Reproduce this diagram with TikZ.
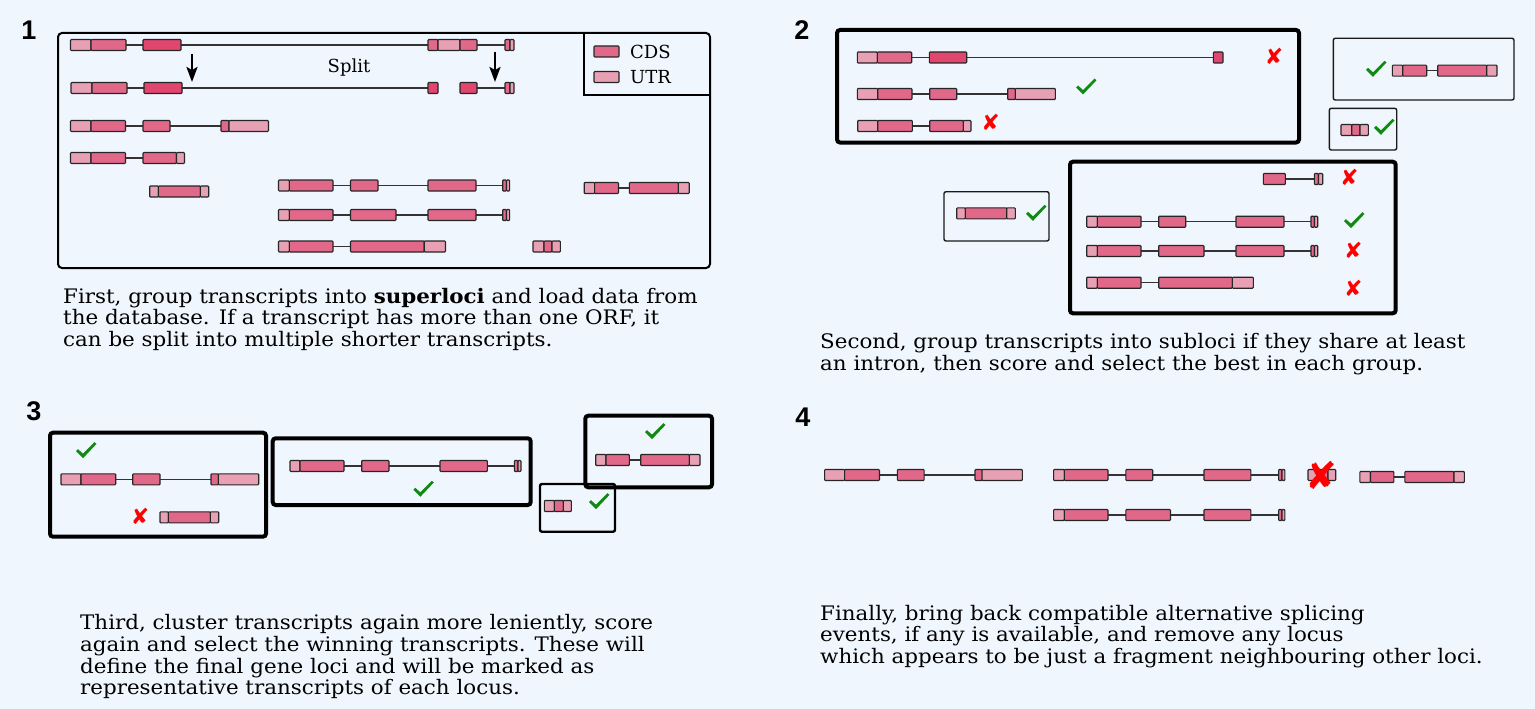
\documentclass[tikz,border=0pt]{standalone}
\usepackage{fontspec}
\setmainfont{DejaVu Serif}
\newfontfamily\parafont{DejaVu Serif}[FakeStretch=1.07]
\newfontfamily\symf{DejaVu Sans}
\newfontfamily\numf{Liberation Sans}
\usetikzlibrary{arrows.meta}
\definecolor{bg}{RGB}{239,246,253}
\definecolor{cdsc}{RGB}{226,104,138}
\definecolor{cdsk}{RGB}{224,70,110}
\definecolor{utrc}{RGB}{232,160,180}
\definecolor{okc}{RGB}{16,138,16}
\definecolor{noc}{RGB}{255,0,0}
\tikzset{
 cds/.style={fill=cdsc, draw=black!85, line width=1.1pt, rounded corners=0.8pt},
 cdsd/.style={cds, fill=cdsk},
 utr/.style={cds, fill=utrc},
 intron/.style={draw=black!80, line width=1.3pt},
 thickbox/.style={draw=black, line width=4pt, rounded corners=3pt},
 thinbox/.style={draw=black!90, line width=1.4pt, rounded corners=2pt},
 para/.style={anchor=base west, inner sep=0pt, font=\parafont\fontsize{20}{20}\selectfont},
 lbl/.style={inner sep=0pt, font=\fontsize{18}{18}\selectfont},
 nomark/.style={text=noc, font=\symf\fontsize{22}{22}\selectfont, inner sep=0pt},
 okpic/.pic={\fill[okc] (-10,0.5) -- (-8,-1.5) -- (-3,3) -- (8.5,-8.5) -- (10.5,-6.8) -- (-3,7.5) -- cycle;},
 panelnum/.style={font=\numf\bfseries\fontsize{27}{27}\selectfont, inner sep=0pt},
 splitarrow/.style={-{Stealth[length=15pt,width=11pt,inset=3pt]}, line width=2.5pt},
}
\newcommand\exn[4]{\draw[#1] (#2,{#4-5.5}) rectangle (#3,{#4+5.5});}
\newcommand\itr[3]{\draw[intron] (#1,#3) -- (#2,#3);}
\begin{document}
\begin{tikzpicture}[x=1pt,y=-1pt]
\fill[bg] (0,0) rectangle (1535,709);
\useasboundingbox (0,0) rectangle (1535,709);
% ---------------- panel numbers
\node[panelnum] (n1) at (29,30) {1};
\node[panelnum] (n2) at (802,30) {2};
\node[panelnum] (n3) at (34,411) {3};
\node[panelnum] (n4) at (803,417) {4};
% ---------------- panel 1
\draw[line width=2pt, rounded corners=4pt] (58,33) rectangle (710,268);
\draw[line width=1.5pt] (584,33) -- (584,95) -- (710,95);
\exn{cds}{594}{619}{51.5}
\exn{utr}{594}{619}{77}
\node[lbl, anchor=west] (lcds) at (630,51.5) {CDS};
\node[lbl, anchor=west] (lutr) at (630,77) {UTR};
% row 1
\itr{126}{143}{45}\itr{181}{428}{45}\itr{477}{505}{45}
\exn{utr}{70.5}{91}{45}\exn{cds}{91}{126}{45}\exn{cdsd}{143}{181}{45}
\exn{cds}{428}{438}{45}\exn{utr}{438}{460}{45}\exn{cds}{460}{477}{45}
\exn{cds}{505}{510}{45}\exn{utr}{510}{514}{45}
% row 2
\itr{127}{144}{88}\itr{182}{428}{88}\itr{477}{505}{88}
\exn{utr}{71}{92}{88}\exn{cds}{92}{127}{88}\exn{cdsd}{144}{182}{88}
\exn{cdsd}{428}{438}{88}\exn{cdsd}{460}{477}{88}
\exn{cds}{505}{510}{88}\exn{utr}{510}{514}{88}
% arrows and label
\coordinate (a1s) at (192,54); \coordinate (a1e) at (192,82);
\coordinate (a2s) at (495,52); \coordinate (a2e) at (495,82);
\draw[splitarrow] (a1s) -- (a1e);
\draw[splitarrow] (a2s) -- (a2e);
\node[lbl] (split) at (349,68) {Split};
% row 3
\itr{125.5}{143}{126}\itr{170}{221}{126}
\exn{utr}{70.5}{91}{126}\exn{cds}{91}{125.5}{126}\exn{cds}{143}{170}{126}
\exn{cds}{221}{229}{126}\exn{utr}{229}{268.5}{126}
% row 4
\itr{125.5}{143}{158}
\exn{utr}{70.5}{91}{158}\exn{cds}{91}{125.5}{158}\exn{cds}{143}{176.5}{158}\exn{utr}{176.5}{184.5}{158}
% row 5
\exn{utr}{149.7}{158.4}{191.5}\exn{cds}{158.4}{200.4}{191.5}\exn{utr}{200.4}{208.7}{191.5}
% right group
\itr{333}{350.5}{185.5}\itr{378}{428}{185.5}\itr{476}{502.7}{185.5}
\exn{utr}{278.5}{289.3}{185.5}\exn{cds}{289.3}{333}{185.5}\exn{cds}{350.5}{378}{185.5}
\exn{cds}{428}{476}{185.5}\exn{cds}{502.7}{506.5}{185.5}\exn{utr}{506.5}{509.6}{185.5}
\itr{333}{350.5}{215}\itr{396}{428}{215}\itr{476}{502.7}{215}
\exn{utr}{278.5}{289.3}{215}\exn{cds}{289.3}{333}{215}\exn{cds}{350.5}{396}{215}
\exn{cds}{428}{476}{215}\exn{cds}{502.7}{506.5}{215}\exn{utr}{506.5}{509.6}{215}
\itr{333}{350.5}{246.5}
\exn{utr}{278.5}{289.3}{246.5}\exn{cds}{289.3}{333}{246.5}\exn{cds}{350.5}{424.2}{246.5}\exn{utr}{424.2}{445.5}{246.5}
\exn{utr}{533}{544}{246.5}\exn{cds}{544}{552}{246.5}\exn{utr}{552}{560.4}{246.5}
\itr{618.5}{629.3}{188}
\exn{utr}{584.2}{594.6}{188}\exn{cds}{594.6}{618.5}{188}\exn{cds}{629.3}{678.3}{188}\exn{utr}{678.3}{689.2}{188}
% text 1
\node[para] (p1a) at (63,303) {First, group transcripts into \textbf{superloci} and load data from};
\node[para] (p1b) at (63,324.5) {the database. If a transcript has more than one ORF, it};
\node[para] (p1c) at (63,346) {can be split into multiple shorter transcripts.};
% ---------------- panel 2
\draw[thickbox] (837,30) rectangle (1299,142.5);
\itr{911.7}{929.3}{57.5}\itr{966.7}{1213.3}{57.5}
\exn{utr}{857.3}{877.3}{57.5}\exn{cds}{877.3}{911.7}{57.5}\exn{cdsd}{929.3}{966.7}{57.5}\exn{cdsd}{1213.3}{1223}{57.5}
\node[nomark] (x21) at (1274,56) {✘};
\itr{912}{929.7}{94}\itr{956.7}{1007.7}{94}
\exn{utr}{857.3}{877.7}{94}\exn{cds}{877.7}{912}{94}\exn{cds}{929.7}{956.7}{94}\exn{cds}{1007.7}{1015.3}{94}\exn{utr}{1015.3}{1055.3}{94}
\pic (c21) at (1086,87) {okpic};
\itr{912.3}{929.7}{126}
\exn{utr}{857.7}{877.7}{126}\exn{cds}{877.7}{912.3}{126}\exn{cds}{929.7}{963.3}{126}\exn{utr}{963.3}{971}{126}
\node[nomark] (x22) at (990.7,122.7) {✘};
% box B
\draw[thinbox] (1333.3,38.3) rectangle (1514,100);
\itr{1426.7}{1437.7}{70.7}
\exn{utr}{1392.3}{1402.7}{70.7}\exn{cds}{1402.7}{1426.7}{70.7}\exn{cds}{1437.7}{1486.7}{70.7}\exn{utr}{1486.7}{1497}{70.7}
\pic (c22) at (1376,69.3) {okpic};
% box C
\draw[thinbox] (1329.3,108.3) rectangle (1396.7,150);
\exn{utr}{1341}{1351.7}{130}\exn{cds}{1351.7}{1360}{130}\exn{utr}{1360}{1368.3}{130}
\pic (c23) at (1384,127.3) {okpic};
% box D
\draw[thinbox] (944,191.7) rectangle (1049,241);
\exn{utr}{956.7}{965.3}{213.3}\exn{cds}{965.3}{1006.7}{213.3}\exn{utr}{1006.7}{1015.3}{213.3}
\pic (c24) at (1036,213.3) {okpic};
% box E
\draw[thickbox] (1070,161.7) rectangle (1395.7,313.3);
\itr{1285.3}{1314.3}{179}
\exn{cds}{1263.3}{1285.3}{179}\exn{cds}{1314.3}{1318.5}{179}\exn{utr}{1318.5}{1322.7}{179}
\node[nomark] (x23) at (1349.3,177.3) {✘};
\itr{1141}{1158.7}{221.7}\itr{1185.7}{1236}{221.7}\itr{1284}{1311}{221.7}
\exn{utr}{1086.7}{1097.3}{221.7}\exn{cds}{1097.3}{1141}{221.7}\exn{cds}{1158.7}{1185.7}{221.7}
\exn{cds}{1236}{1284}{221.7}\exn{cds}{1311}{1314.5}{221.7}\exn{utr}{1314.5}{1317.7}{221.7}
\pic (c25) at (1354,220.7) {okpic};
\itr{1141}{1158.7}{251}\itr{1204}{1236}{251}\itr{1284}{1311}{251}
\exn{utr}{1086.7}{1097.3}{251}\exn{cds}{1097.3}{1141}{251}\exn{cds}{1158.7}{1204}{251}
\exn{cds}{1236}{1284}{251}\exn{cds}{1311}{1314.5}{251}\exn{utr}{1314.5}{1317.7}{251}
\node[nomark] (x24) at (1353.3,250.7) {✘};
\itr{1141}{1158.7}{282.7}
\exn{utr}{1086.7}{1097.3}{282.7}\exn{cds}{1097.3}{1141}{282.7}\exn{cds}{1158.7}{1232.3}{282.7}\exn{utr}{1232.3}{1253.3}{282.7}
\node[nomark] (x25) at (1353.3,288.3) {✘};
% text 2
\node[para] (p2a) at (820,348.3) {Second, group transcripts into subloci if they share at least};
\node[para] (p2b) at (820,370) {an intron, then score and select the best in each group.};
% ---------------- panel 3
\draw[thickbox] (50,432.7) rectangle (266,536.7);
\pic (c31) at (86,450.7) {okpic};
\itr{115.7}{132.7}{479.3}\itr{160}{211}{479.3}
\exn{utr}{61}{81}{479.3}\exn{cds}{81}{115.7}{479.3}\exn{cds}{132.7}{160}{479.3}\exn{cds}{211}{218.3}{479.3}\exn{utr}{218.3}{258.7}{479.3}
\node[nomark] (x31) at (140,516.7) {✘};
\exn{utr}{160}{168.3}{517.3}\exn{cds}{168.3}{210.3}{517.3}\exn{utr}{210.3}{218.7}{517.3}
\draw[thickbox] (272.7,438.3) rectangle (530.7,505);
\itr{344}{361.7}{466}\itr{389}{440}{466}\itr{487.3}{514.3}{466}
\exn{utr}{290}{300}{466}\exn{cds}{300}{344}{466}\exn{cds}{361.7}{389}{466}
\exn{cds}{440}{487.3}{466}\exn{cds}{514.3}{518}{466}\exn{utr}{518}{521}{466}
\pic (c32) at (423.3,489.3) {okpic};
\draw[thickbox] (585.3,415.7) rectangle (712,487.3);
\pic (c33) at (655,431.7) {okpic};
\itr{629.3}{640.7}{460}
\exn{utr}{595.7}{606}{460}\exn{cds}{606}{629.3}{460}\exn{cds}{640.7}{689.3}{460}\exn{utr}{689.3}{700}{460}
\draw[draw=black, line width=2.4pt, rounded corners=2pt] (540,484) rectangle (615,531.7);
\exn{utr}{544.3}{554.3}{506}\exn{cds}{554.3}{563.3}{506}\exn{utr}{563.3}{571.3}{506}
\pic (c34) at (599,501.7) {okpic};
% text 3
\node[para] (p3a) at (80,629) {Third, cluster transcripts again more leniently, score};
\node[para] (p3b) at (80,651) {again and select the winning transcripts. These will};
\node[para] (p3c) at (80,673) {define the final gene loci and will be marked as};
\node[para] (p3d) at (80,694.5) {representative transcripts of each locus.};
% ---------------- panel 4
\itr{879.5}{897.3}{475}\itr{924.1}{975}{475}
\exn{utr}{824.6}{844.6}{475}\exn{cds}{844.6}{879.5}{475}\exn{cds}{897.3}{924.1}{475}\exn{cds}{975}{982.1}{475}\exn{utr}{982.1}{1022.3}{475}
\itr{1108}{1125.9}{475}\itr{1152.7}{1204}{475}\itr{1250.9}{1278.6}{475}
\exn{utr}{1053.6}{1064.3}{475}\exn{cds}{1064.3}{1108}{475}\exn{cds}{1125.9}{1152.7}{475}
\exn{cds}{1204}{1250.9}{475}\exn{cds}{1278.6}{1282}{475}\exn{utr}{1282}{1284.8}{475}
\exn{utr}{1308}{1318}{475}\exn{cds}{1318}{1328}{475}\exn{utr}{1328}{1335.7}{475}
\node[nomark, font=\symf\fontsize{38}{38}\selectfont] (x41) at (1321,475) {✘};
\itr{1393.8}{1404.9}{477}
\exn{utr}{1359.8}{1370.5}{477}\exn{cds}{1370.5}{1393.8}{477}\exn{cds}{1404.9}{1454}{477}\exn{utr}{1454}{1464.3}{477}
\itr{1108}{1125.9}{515}\itr{1170.5}{1204}{515}\itr{1250.9}{1278.6}{515}
\exn{utr}{1053.6}{1064.3}{515}\exn{cds}{1064.3}{1108}{515}\exn{cds}{1125.9}{1170.5}{515}
\exn{cds}{1204}{1250.9}{515}\exn{cds}{1278.6}{1282}{515}\exn{utr}{1282}{1284.8}{515}
% text 4
\node[para] (p4a) at (820,620) {Finally, bring back compatible alternative splicing};
\node[para] (p4b) at (820,641.5) {events, if any is available, and remove any locus};
\node[para] (p4c) at (820,663) {which appears to be just a fragment neighbouring other loci.};
\end{tikzpicture}
\end{document}
